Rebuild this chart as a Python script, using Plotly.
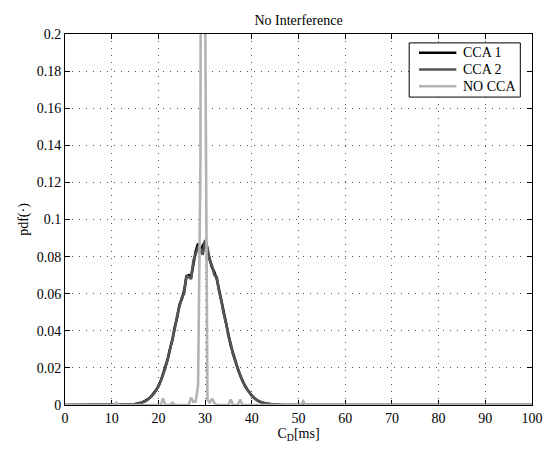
import plotly.graph_objects as go

# x grid (ms) for the CCA curves
x_cca = [0, 13.5, 14, 14.5, 15, 15.5, 16, 16.5, 17, 17.5, 18, 18.5, 19, 19.5, 20, 20.5,
         21, 21.5, 22, 22.5, 23, 23.5, 24, 24.5, 25, 25.5, 26, 26.5, 27, 27.5,
         28, 28.5, 29, 29.5, 30, 30.5, 31, 31.5, 32, 32.5, 33, 33.5, 34, 34.5,
         35, 35.5, 36, 36.5, 37, 37.5, 38, 38.5, 39, 39.5, 40, 40.5, 41, 41.5,
         42, 42.5, 43, 43.5, 44, 44.5, 45, 45.5, 46, 46.5, 100]

cca1 = [0, 0, 0.0002, 0.0003, 0.0005, 0.0007, 0.0010, 0.0014, 0.0020, 0.0027, 0.0036, 0.0048,
        0.0062, 0.0080, 0.0102, 0.0130, 0.0168, 0.0205, 0.0248, 0.0305, 0.0350, 0.0420,
        0.0470, 0.0540, 0.0570, 0.0615, 0.0690, 0.0700, 0.0690, 0.0760, 0.0830, 0.0870,
        0.0820, 0.0860, 0.0880, 0.0830, 0.0790, 0.0740, 0.0715, 0.0680, 0.0620, 0.0555,
        0.0500, 0.0430, 0.0380, 0.0320, 0.0275, 0.0230, 0.0195, 0.0160, 0.0130, 0.0105,
        0.0085, 0.0066, 0.0050, 0.0038, 0.0028, 0.0020, 0.0015, 0.0011, 0.0008, 0.0006,
        0.0004, 0.0003, 0.0002, 0.0001, 0.0001, 0, 0]

cca2 = [0, 0, 0.0002, 0.0003, 0.0004, 0.0006, 0.0009, 0.0013, 0.0018, 0.0025, 0.0034, 0.0046,
        0.0060, 0.0078, 0.0100, 0.0128, 0.0160, 0.0200, 0.0245, 0.0295, 0.0355, 0.0410,
        0.0480, 0.0530, 0.0580, 0.0600, 0.0700, 0.0690, 0.0680, 0.0780, 0.0820, 0.0850,
        0.0840, 0.0810, 0.0890, 0.0850, 0.0780, 0.0750, 0.0700, 0.0690, 0.0610, 0.0560,
        0.0490, 0.0440, 0.0370, 0.0330, 0.0270, 0.0235, 0.0190, 0.0165, 0.0128, 0.0108,
        0.0083, 0.0068, 0.0049, 0.0039, 0.0027, 0.0021, 0.0014, 0.0011, 0.0008, 0.0006,
        0.0004, 0.0003, 0.0002, 0.0001, 0.0001, 0, 0]

x_nocca = [0, 10.5, 11, 11.5, 20.5, 21, 21.5, 22.5, 23, 23.5, 26.5, 27, 27.5, 28, 28.5,
           29, 29.5, 30, 30.5, 31, 31.5, 32, 32.5, 35, 35.5, 36, 37, 37.5, 38,
           50.5, 51, 51.5, 100]
nocca = [0, 0, 0.0012, 0, 0, 0.0035, 0, 0, 0.0012, 0, 0, 0.004, 0.0015, 0.002, 0.011,
         0.13, 1.0, 0.22, 0.003, 0.001, 0.0035, 0.001, 0, 0, 0.003, 0, 0, 0.003, 0,
         0, 0.002, 0, 0]

series_names = ["CCA 1", "CCA 2", "NO CCA"]
series_colors = ["#000000", "#555555", "#b3b3b3"]

x_ticks = [0, 10, 20, 30, 40, 50, 60, 70, 80, 90, 100]
y_ticks = [0, 0.02, 0.04, 0.06, 0.08, 0.1, 0.12, 0.14, 0.16, 0.18, 0.2]
y_tick_text = ["0", "0.02", "0.04", "0.06", "0.08", "0.1", "0.12", "0.14", "0.16", "0.18", "0.2"]

FONT = "Liberation Serif, Times New Roman, Times, serif"
LW = 2.6

fig = go.Figure()
for xs, ys, nm, col in [(x_cca, cca1, series_names[0], series_colors[0]),
                        (x_cca, cca2, series_names[1], series_colors[1]),
                        (x_nocca, nocca, series_names[2], series_colors[2])]:
    fig.add_trace(go.Scatter(x=xs, y=ys, mode="lines", name=nm, showlegend=False,
                             line=dict(color=col, width=LW)))

axis_common = dict(
    showline=True, linecolor="black", linewidth=1, mirror="allticks",
    ticks="inside", ticklen=5, tickcolor="black", tickwidth=1,
    showgrid=True, gridcolor="#555555", gridwidth=1, griddash="1px,6px",
    zeroline=False, layer="below traces",
    tickfont=dict(family=FONT, size=14, color="black"),
)

# manual legend box (MATLAB style), paper coordinates
shapes = [dict(type="rect", xref="paper", yref="paper", x0=0.737, x1=0.975, y0=0.830, y1=0.976,
               line=dict(color="black", width=1), fillcolor="white", layer="above")]
annotations = []
row_y = [0.9495, 0.9043, 0.859]
for nm, col, yy in zip(series_names, series_colors, row_y):
    shapes.append(dict(type="line", xref="paper", yref="paper", x0=0.758, x1=0.838, y0=yy, y1=yy,
                       line=dict(color=col, width=LW), layer="above"))
    annotations.append(dict(xref="paper", yref="paper", x=0.847, y=yy, text=nm, showarrow=False,
                            xanchor="left", yanchor="middle",
                            font=dict(family=FONT, size=14, color="black")))

fig.update_layout(
    width=555, height=451,
    margin=dict(l=65, r=15, t=34, b=41),
    paper_bgcolor="white", plot_bgcolor="white",
    font=dict(family=FONT, size=14, color="black"),
    title=dict(text="No Interference", xref="paper", x=0.5, xanchor="center",
               y=0.956, yanchor="middle",
               font=dict(family=FONT, size=14, color="black")),
    xaxis=dict(range=[0, 100], tickvals=x_ticks, **axis_common,
               title=dict(text="C<sub>D</sub>[ms]", standoff=3,
                          font=dict(family=FONT, size=14, color="black"))),
    yaxis=dict(range=[0, 0.2], tickvals=y_ticks, ticktext=y_tick_text, **axis_common,
               title=dict(text="pdf(·)", standoff=4,
                          font=dict(family=FONT, size=14, color="black"))),
    shapes=shapes,
    annotations=annotations,
    showlegend=False,
)

fig.write_html("out.html")
